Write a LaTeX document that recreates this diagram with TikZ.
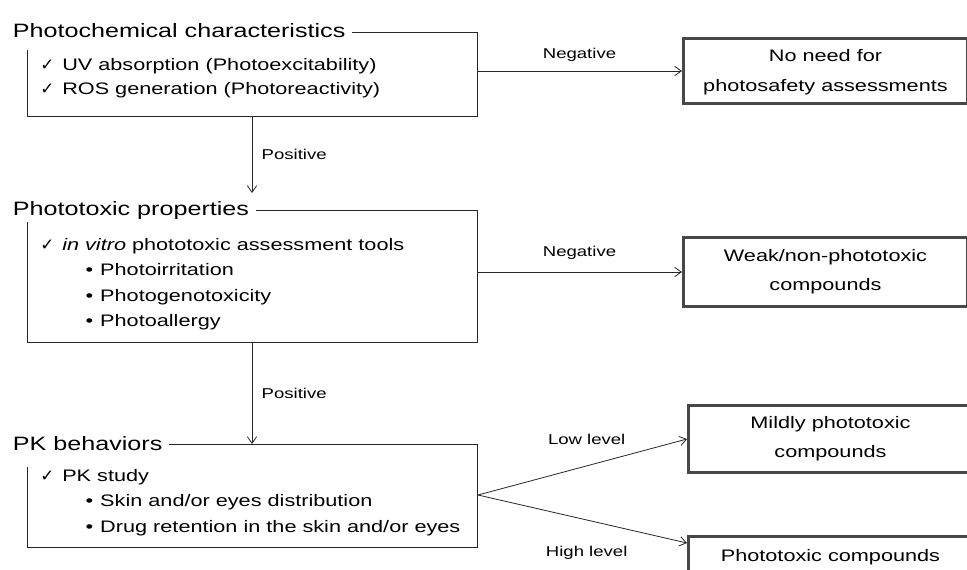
\documentclass[tikz,border=0pt]{standalone}
\usepackage{fontspec}
\setmainfont{Liberation Sans}[FakeStretch=1.3]
\newfontfamily\symfont{DejaVu Sans}
\usetikzlibrary{arrows.meta,calc}

\newcommand{\chk}{\makebox[16.5pt][l]{\symfont ✓}}
\newcommand{\itm}{\hspace*{34pt}\makebox[11pt][l]{•}}

\begin{document}
\begin{tikzpicture}[x=0.75pt,y=0.75pt,yscale=-1,
  boxline/.style={draw=black!85, line width=0.6pt},
  flow/.style={draw=black!85, line width=0.6pt, -{Straight Barb[length=5pt,width=7pt]}},
  headtxt/.style={font=\fontsize{14.5}{17}\selectfont, inner sep=2pt},
  listtxt/.style={align=left, inner sep=0pt, font=\fontsize{12.5}{19}\selectfont},
  resultbox/.style={draw=black!72, line width=2.2pt, fill=white, align=center, minimum width=213pt, font=\fontsize{12.5}{22}\selectfont},
  flowlbl/.style={font=\fontsize{10.7}{13}\selectfont, inner sep=2pt}]
\useasboundingbox (0,0) rectangle (967,569);

%Photochemical characteristics
\node[headtxt, anchor=base west] (pcTitle) at (10,37) {Photochemical characteristics};
\node[listtxt, anchor=north west, font=\fontsize{12.5}{18}\selectfont] (pcList) at (40,58) {\chk UV absorption (Photoexcitability)\\ \chk ROS generation (Photoreactivity)};
\coordinate (pcNE) at (477,32);
\coordinate (pcSE) at (477,116);
\coordinate (pcSW) at (27,116);
\coordinate (pcLeft) at (27,50);
\draw[boxline] (pcTitle.east |- pcNE) ++(4,0) -- (pcNE) -- (pcSE) -- (pcSW) -- (pcLeft);

%Phototoxic properties
\node[headtxt, anchor=base west] (ptTitle) at (10,215) {Phototoxic properties};
\node[listtxt, anchor=north west] (ptList) at (40,238) {\chk\textit{in vitro} phototoxic assessment tools\\ \itm Photoirritation\\ \itm Photogenotoxicity\\ \itm Photoallergy};
\coordinate (ptNE) at (477,210);
\coordinate (ptSE) at (477,342);
\coordinate (ptSW) at (27,342);
\coordinate (ptLeft) at (27,222);
\draw[boxline] (ptTitle.east |- ptNE) ++(4,0) -- (ptNE) -- (ptSE) -- (ptSW) -- (ptLeft);

%PK behaviors
\node[headtxt, anchor=base west] (pkTitle) at (10,450) {PK behaviors};
\node[listtxt, anchor=north west] (pkList) at (40,469) {\chk PK study\\ \itm Skin and/or eyes distribution\\ \itm Drug retention in the skin and/or eyes};
\coordinate (pkNE) at (477,444);
\coordinate (pkSE) at (477,547);
\coordinate (pkSW) at (27,547);
\coordinate (pkLeft) at (27,467);
\draw[boxline] (pkTitle.east |- pkNE) ++(4,0) -- (pkNE) -- (pkSE) -- (pkSW) -- (pkLeft);

%Outcomes
\node[resultbox, anchor=west, minimum height=49pt, text depth=1pt] (noNeed) at (682,71) {No need for\\photosafety assessments};
\node[resultbox, anchor=west, minimum height=52pt] (weakTox) at (682,272) {Weak/non-phototoxic\\compounds};
\node[resultbox, anchor=west, minimum height=50pt] (mildTox) at (687,439) {Mildly phototoxic\\compounds};
\node[resultbox, anchor=north west, inner ysep=10pt, text height=9pt, text depth=30pt] (toxic) at (687,535) {Phototoxic compounds};

%Connectors
\coordinate (pcOut) at (477,71);
\coordinate (pcDown) at (252,116);
\coordinate (ptIn) at (252,193);
\coordinate (ptOut) at (477,272);
\coordinate (ptDown) at (252,342);
\coordinate (pkOut) at (478,495);
\draw[flow] (pcOut) -- (noNeed.west) node[flowlbl, midway, above=5pt] {Negative};
\draw[flow] (pcDown) -- (ptIn) node[flowlbl, midway, right=5pt] {Positive};
\draw[flow] (ptOut) -- (weakTox.west) node[flowlbl, midway, above=7pt] {Negative};
\draw[flow] (ptDown) -- (pkNE -| ptDown) node[flowlbl, midway, right=5pt] {Positive};
\draw[flow] (pkOut) -- (mildTox.west) node[flowlbl, pos=0.52, above=14pt] {Low level};
\draw[flow] (pkOut) -- ($(toxic.north west)+(0,8)$) node[flowlbl, pos=0.52, below=17pt] {High level};

\end{tikzpicture}
\end{document}
